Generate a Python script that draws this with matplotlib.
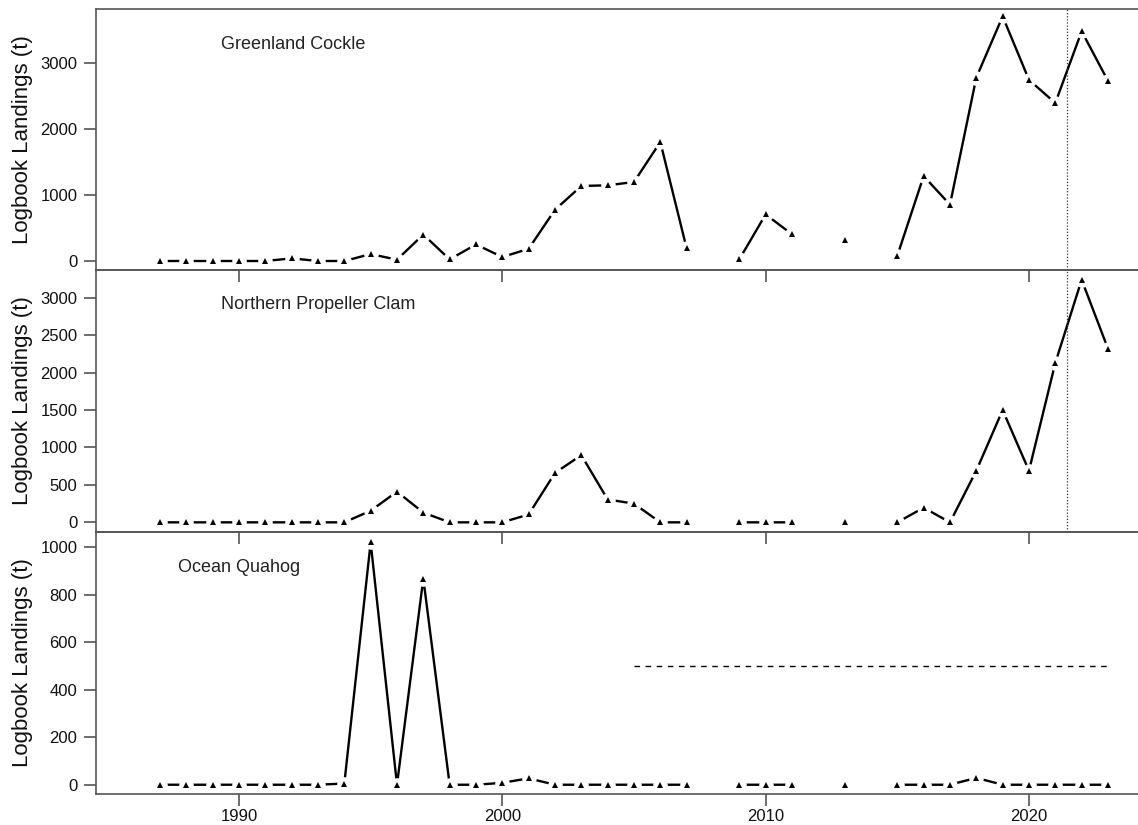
import numpy as np
import matplotlib.pyplot as plt

plt.rcParams['font.family'] = ['Liberation Sans', 'DejaVu Sans']

years = np.arange(1987, 2024)
nan = np.nan

# landings (t) per year, 2008 / 2012 / 2014 missing
cockle = [0, 0, 0, 0, 0, 40, 0, 0, 105, 20, 400, 25, 250, 60, 185, 775, 1135,
          1145, 1195, 1800, 190, nan, 25, 705, 405, nan, 318, nan, 80, 1285,
          853, 2775, 3700, 2740, 2390, 3475, 2725]
propeller = [0, 0, 0, 0, 0, 0, 0, 0, 155, 410, 130, 0, 0, 0, 105, 660, 898,
             305, 250, 0, 0, nan, 0, 0, 0, nan, 0, nan, 0, 196, 0, 690, 1500,
             690, 2130, 3240, 2320]
quahog = [0, 0, 0, 0, 0, 0, 0, 5, 1020, 0, 868, 0, 0, 8, 27, 0, 0, 0, 0, 0, 0,
          nan, 0, 0, 0, nan, 0, nan, 0, 0, 0, 29, 0, 0, 0, 0, 0]

panels = [
    ('Greenland Cockle', cockle, [0, 1000, 2000, 3000], (-136, 3812), (1989.3, 3270)),
    ('Northern Propeller Clam', propeller, [0, 500, 1000, 1500, 2000, 2500, 3000], (-129, 3371), (1989.3, 2907)),
    ('Ocean Quahog', quahog, [0, 200, 400, 600, 800, 1000], (-39, 1064), (1987.7, 916)),
]

W, H = 1138, 825
fig = plt.figure(figsize=(W / 100, H / 100), dpi=100)
bounds = [(9, 270), (270, 532), (532, 794)]
spine_col = '#555555'

axes = []
for (name, vals, yt, ylim, txt), (t, b) in zip(panels, bounds):
    ax = fig.add_axes([96 / W, 1 - b / H, 1 - 96 / W, (b - t) / H])
    ax.patch.set_visible(False)
    v = np.array(vals, dtype=float)
    ax.plot(years, v, color='black', lw=1.7, zorder=1)
    # white discs give the gaps around points (R type="b")
    ax.plot(years, v, 'o', ms=10.5, color='white', mew=0, zorder=1.5)
    ax.plot(years, v, '^', ms=5, color='black', mew=0, zorder=4)
    ax.set_xlim(1984.57, 2024.14)
    ax.set_ylim(*ylim)
    ax.set_yticks(yt)
    ax.set_xticks([1990, 2000, 2010, 2020])
    ax.text(txt[0], txt[1], name, fontsize=13, color='#222222', va='center', ha='left')
    for s in ['top', 'bottom', 'left']:
        ax.spines[s].set_color(spine_col)
        ax.spines[s].set_linewidth(1.2)
    ax.spines['right'].set_visible(False)
    ax.tick_params(axis='both', direction='out', length=8.5, width=1.2,
                   color=spine_col, labelsize=12, pad=5, labelcolor='#111111')
    ax.tick_params(axis='x', pad=2.5)
    fig.text(23 / W, 1 - (t + b) / 2 / H, 'Logbook Landings (t)', rotation=90,
             ha='center', va='center', fontsize=16, color='#111111')
    axes.append(ax)

axes[0].tick_params(axis='x', labelbottom=False)
axes[1].tick_params(axis='x', labelbottom=False)

for ax in axes[:2]:
    ax.axvline(2021.45, color='#333333', lw=0.9, ls=(0, (1, 1.5)), zorder=1.8)

axes[2].plot([2005, 2023], [500, 500], color='black', lw=1, ls=(0, (4, 4)))

fig.savefig('out.png', dpi=100, facecolor='white')
